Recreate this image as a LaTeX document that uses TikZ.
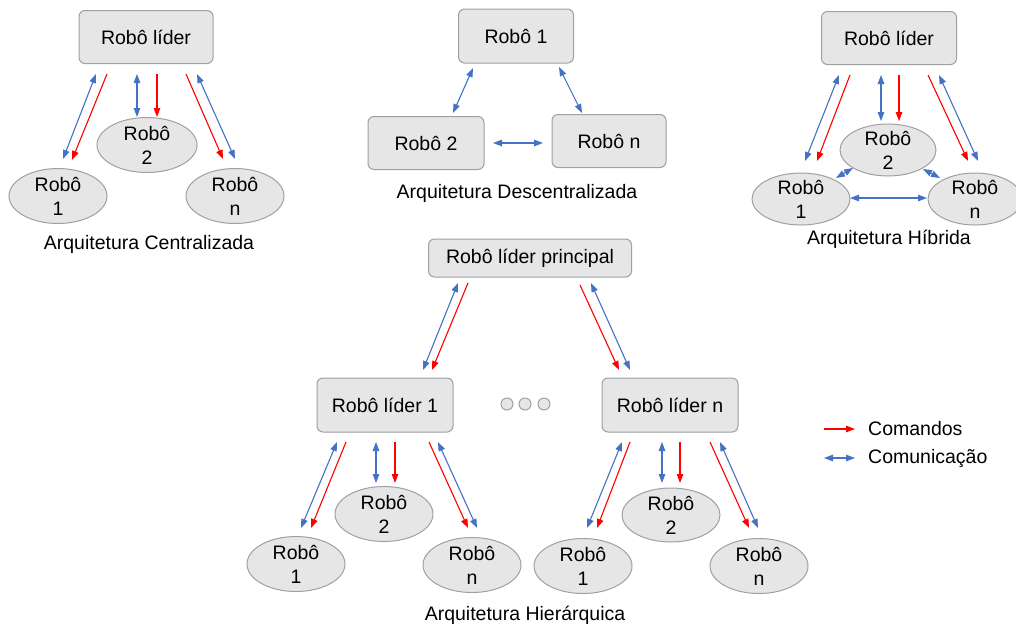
\documentclass[tikz,border=0pt]{standalone}
\usepackage{fontspec}
\setmainfont{Liberation Sans}
\usetikzlibrary{arrows.meta,shapes.geometric}
\definecolor{boxfill}{HTML}{E6E6E6}
\definecolor{boxline}{HTML}{A0A0A0}
\definecolor{cblue}{HTML}{4472C4}
\definecolor{cred}{HTML}{FF0000}
\begin{document}
\begin{tikzpicture}[x=1pt,y=-1pt,
 every node/.style={font=\fontsize{19.5}{24}\selectfont},
 rbox/.style={draw=boxline,fill=boxfill,rounded corners=6pt,line width=1pt,inner sep=0pt},
 rell/.style={ellipse,draw=boxline,fill=boxfill,line width=1pt,inner xsep=0pt,inner ysep=-8pt,align=center,minimum width=98pt,minimum height=55pt,text depth=-2pt},
 dotc/.style={circle,draw=boxline,fill=boxfill,line width=1pt,inner sep=0pt,minimum size=12pt},
 cmd/.style={draw=cred,line width=1.1pt,-{Triangle[length=9pt,width=6.5pt]}},
 com/.style={draw=cblue,line width=1.1pt,{Triangle[length=9pt,width=6.5pt]}-{Triangle[length=9pt,width=6.5pt]}},
 ttl/.style={inner sep=0pt}
]
\useasboundingbox (0,0) rectangle (1016,630);
\clip (0,0) rectangle (1016,630);
\fill[white] (0,0) rectangle (1016,630);

% ---------- Centralizada
\node[rbox,minimum width=134pt,minimum height=53pt] (cL) at (146,37) {Robô líder};
\node[rell,minimum width=100pt] (c2) at (147,145) {Robô\\2};
\node[rell] (c1) at (58,196) {Robô\\1};
\node[rell] (cn) at (235,196) {Robô\\n};
\node[ttl] (cT) at (149,244) {Arquitetura Centralizada};
\draw[com] ([shift={(-50,37)}]cL.center) -- ([shift={(5,-37)}]c1.center);
\draw[cmd] ([shift={(-39,37)}]cL.center) -- ([shift={(14,-36)}]c1.center);
\draw[com] ([shift={(-9,37)}]cL.center) -- ([shift={(-10,-28)}]c2.center);
\draw[cmd] ([shift={(11,37)}]cL.center) -- ([shift={(10,-28)}]c2.center);
\draw[cmd] ([shift={(40,37)}]cL.center) -- ([shift={(-12,-37)}]cn.center);
\draw[com] ([shift={(51,37)}]cL.center) -- ([shift={(0,-37)}]cn.center);

% ---------- Descentralizada
\node[rbox,minimum width=115pt,minimum height=54pt] (d1) at (516,36) {Robô 1};
\node[rbox,minimum width=116pt,minimum height=53pt] (d2) at (426,143) {Robô 2};
\node[rbox,minimum width=114pt,minimum height=53pt] (dn) at (609,141) {Robô n};
\node[ttl] (dT) at (517,193) {Arquitetura Descentralizada};
\draw[com] ([shift={(-43,32)}]d1.center) -- ([shift={(27,-30)}]d2.center);
\draw[com] ([shift={(43,31)}]d1.center) -- ([shift={(-27,-28)}]dn.center);
\draw[com] ([shift={(67,0)}]d2.center) -- ([shift={(-66,2)}]dn.center);

% ---------- Hibrida
\node[rbox,minimum width=135pt,minimum height=53pt] (hL) at (889,38) {Robô líder};
\node[rell,minimum width=96pt,minimum height=52pt] (h2) at (888,150) {Robô\\2};
\node[rell,minimum height=52pt] (h1) at (801,199) {Robô\\1};
\node[rell,minimum width=94pt,minimum height=52pt] (hn) at (975,199) {Robô\\n};
\node[ttl] (hT) at (889,239) {Arquitetura Híbrida};
\draw[com] ([shift={(-50,37)}]hL.center) -- ([shift={(4,-38)}]h1.center);
\draw[cmd] ([shift={(-39,37)}]hL.center) -- ([shift={(16,-38)}]h1.center);
\draw[com] ([shift={(-8,37)}]hL.center) -- ([shift={(-7,-29)}]h2.center);
\draw[cmd] ([shift={(10,37)}]hL.center) -- ([shift={(11,-29)}]h2.center);
\draw[cmd] ([shift={(39,37)}]hL.center) -- ([shift={(-7,-38)}]hn.center);
\draw[com] ([shift={(50,37)}]hL.center) -- ([shift={(3,-38)}]hn.center);
\draw[com] ([shift={(35,-21)}]h1.center) -- ([shift={(-35,18)}]h2.center);
\draw[com] ([shift={(35,19)}]h2.center) -- ([shift={(-35,-21)}]hn.center);
\draw[com] ([shift={(49,-1)}]h1.center) -- ([shift={(-48,-1)}]hn.center);

% ---------- Hierarquica
\node[rbox,minimum width=203pt,minimum height=38pt] (hp) at (530,258) {Robô líder principal};
\node[rbox,minimum width=136pt,minimum height=54pt] (l1) at (385,405) {Robô líder 1};
\node[rbox,minimum width=136pt,minimum height=54pt] (ln) at (670,405) {Robô líder n};
\node[dotc] (o1) at (507,404) {};
\node[dotc] (o2) at (525,404) {};
\node[dotc] (o3) at (544,404) {};
\draw[com] ([shift={(-72,25)}]hp.center) -- ([shift={(38,-35)}]l1.center);
\draw[cmd] ([shift={(-62,25)}]hp.center) -- ([shift={(47,-35)}]l1.center);
\draw[cmd] ([shift={(50,27)}]hp.center) -- ([shift={(-51,-35)}]ln.center);
\draw[com] ([shift={(61,25)}]hp.center) -- ([shift={(-40,-35)}]ln.center);

\node[rell] (a2) at (384,514) {Robô\\2};
\node[rell] (a1) at (296,564) {Robô\\1};
\node[rell] (an) at (472,565) {Robô\\n};
\draw[com] ([shift={(-48,37)}]l1.center) -- ([shift={(5,-36)}]a1.center);
\draw[cmd] ([shift={(-39,37)}]l1.center) -- ([shift={(15,-36)}]a1.center);
\draw[com] ([shift={(-9,37)}]l1.center) -- ([shift={(-8,-31)}]a2.center);
\draw[cmd] ([shift={(10,37)}]l1.center) -- ([shift={(11,-31)}]a2.center);
\draw[cmd] ([shift={(44,37)}]l1.center) -- ([shift={(-4,-37)}]an.center);
\draw[com] ([shift={(53,37)}]l1.center) -- ([shift={(5,-37)}]an.center);

\node[rell,minimum height=54pt] (b2) at (671,515) {Robô\\2};
\node[rell] (b1) at (583,566) {Robô\\1};
\node[rell] (bn) at (759,566) {Robô\\n};
\draw[com] ([shift={(-48,37)}]ln.center) -- ([shift={(4,-38)}]b1.center);
\draw[cmd] ([shift={(-40,37)}]ln.center) -- ([shift={(14,-38)}]b1.center);
\draw[com] ([shift={(-8,37)}]ln.center) -- ([shift={(-9,-32)}]b2.center);
\draw[cmd] ([shift={(10,37)}]ln.center) -- ([shift={(9,-32)}]b2.center);
\draw[cmd] ([shift={(40,37)}]ln.center) -- ([shift={(-10,-38)}]bn.center);
\draw[com] ([shift={(50,37)}]ln.center) -- ([shift={(-1,-38)}]bn.center);
\node[ttl] (rT) at (525,615) {Arquitetura Hierárquica};

% ---------- Legenda
\coordinate (k1a) at (824,429);
\coordinate (k1b) at (855,429);
\coordinate (k2a) at (824,458);
\coordinate (k2b) at (855,458);
\draw[cmd] (k1a) -- (k1b);
\draw[com] (k2a) -- (k2b);
\node[ttl,anchor=west] (k1t) at (868,429) {Comandos};
\node[ttl,anchor=west] (k2t) at (868,458) {Comunicação};
\end{tikzpicture}
\end{document}
